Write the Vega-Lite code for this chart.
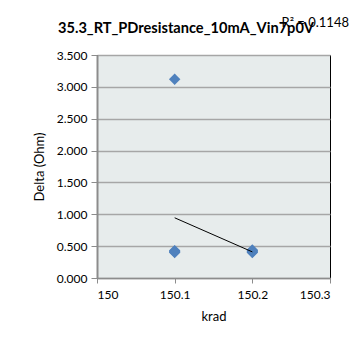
{
  "$schema": "https://vega.github.io/schema/vega-lite/v6.json",
  "width": 233,
  "height": 223,
  "autosize": {"type": "none"},
  "padding": {"left": 97, "top": 55, "right": 28, "bottom": 69},
  "background": "#ffffff",
  "config": {
    "font": "Lato",
    "view": {"fill": "#E7ECEC", "stroke": "#000000", "strokeWidth": 1}
  },
  "title": {
    "text": "35.3_RT_PDresistance_10mA_Vin7p0V",
    "fontSize": 14.6,
    "fontWeight": "bold",
    "color": "#000000",
    "anchor": "start",
    "frame": "group",
    "baseline": "alphabetic",
    "dx": -39,
    "offset": -30
  },
  "datasets": {
    "points": [
      {"krad": 150.1, "delta": 3.12},
      {"krad": 150.1, "delta": 0.43},
      {"krad": 150.1, "delta": 0.41},
      {"krad": 150.1, "delta": 0.42},
      {"krad": 150.1, "delta": 0.40},
      {"krad": 150.2, "delta": 0.44},
      {"krad": 150.2, "delta": 0.40},
      {"krad": 150.2, "delta": 0.42},
      {"krad": 150.2, "delta": 0.41},
      {"krad": 150.2, "delta": 0.43}
    ],
    "trend": [
      {"krad": 150.1, "delta": 0.945},
      {"krad": 150.2, "delta": 0.41}
    ],
    "label": [
      {"krad": 150.281, "delta": 4.0, "text": "R² = 0.1148"}
    ]
  },
  "encoding": {
    "x": {
      "field": "krad", "type": "quantitative",
      "scale": {"domain": [150, 150.3], "nice": false, "zero": false},
      "axis": {
        "title": "krad", "titleFontSize": 13, "titleFontWeight": "normal", "titleColor": "#000", "titlePadding": 10,
        "values": [150, 150.1, 150.2, 150.3], "format": ".1~f", "labelOverlap": false,
        "labelFontSize": 12, "labelColor": "#000", "labelPadding": 6,
        "grid": false, "domainColor": "#8C8C8C", "domainWidth": 1.5,
        "tickColor": "#8C8C8C", "tickSize": 5, "tickWidth": 1
      }
    },
    "y": {
      "field": "delta", "type": "quantitative",
      "scale": {"domain": [0, 3.5], "nice": false},
      "axis": {
        "title": "Delta (Ohm)", "titleFontSize": 13, "titleFontWeight": "normal", "titleColor": "#000", "titlePadding": 10,
        "values": [0, 0.5, 1, 1.5, 2, 2.5, 3, 3.5], "format": ".3f", "labelOverlap": false,
        "labelFontSize": 12, "labelColor": "#000", "labelPadding": 4,
        "grid": true, "gridColor": "#A6A6A6", "gridWidth": 1.5,
        "domainColor": "#8C8C8C", "domainWidth": 2,
        "tickColor": "#8C8C8C", "tickSize": 6, "tickWidth": 1
      }
    }
  },
  "layer": [
    {
      "data": {"name": "points"},
      "mark": {"type": "point", "shape": "diamond", "filled": true, "size": 130, "color": "#4F81BD", "opacity": 1}
    },
    {
      "data": {"name": "trend"},
      "mark": {"type": "line", "color": "#000000", "strokeWidth": 1}
    },
    {
      "data": {"name": "label"},
      "mark": {"type": "text", "fontSize": 13, "color": "#000000", "align": "center", "baseline": "middle"},
      "encoding": {
        "text": {"field": "text"}
      }
    }
  ]
}
